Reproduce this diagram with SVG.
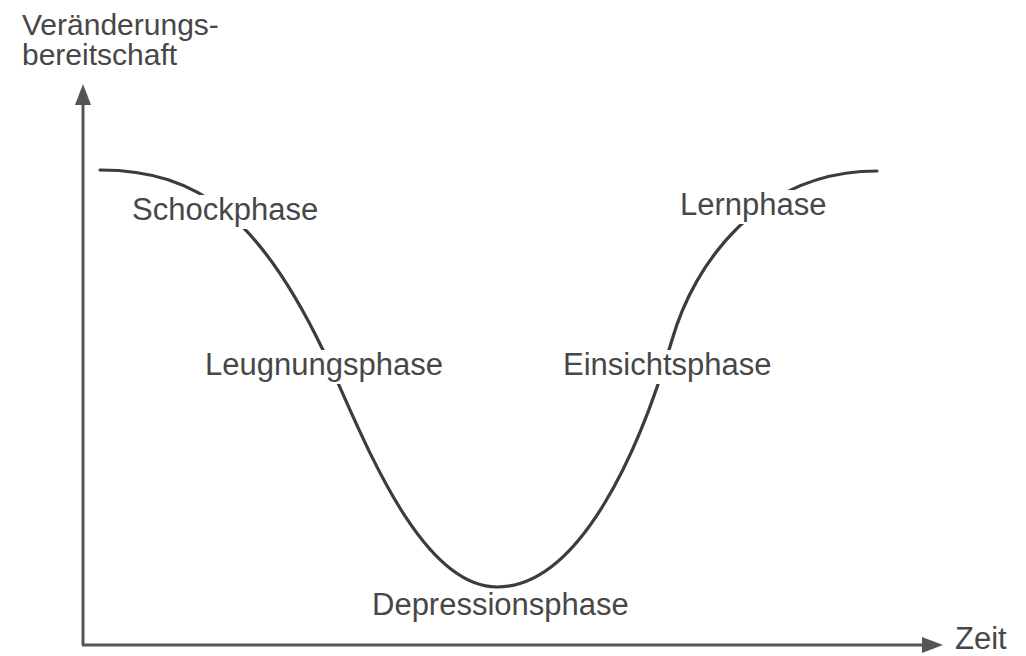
<svg xmlns="http://www.w3.org/2000/svg" width="1026" height="656" viewBox="0 0 1026 656">
<style>
  .lbl { font-family: "Liberation Sans", Arial, sans-serif; font-size: 31px; fill: #474747; }
  .axl { font-size: 30px; }
  .axis { stroke: #555; stroke-width: 3; fill: none; }
  .curve { stroke: #3c3c3c; stroke-width: 3.2; fill: none; stroke-linecap: round; }
  .knock { fill: #ffffff; stroke: none; }
</style>
<defs>
  <marker id="arr" viewBox="0 0 21 16" refX="0" refY="8" markerWidth="21" markerHeight="16" markerUnits="userSpaceOnUse" orient="auto">
    <path d="M0,0 L21,8 L0,16 z" fill="#555"/>
  </marker>
</defs>
<rect width="1026" height="656" fill="#ffffff"/>
<g id="connectors">
  <line class="axis" x1="83" y1="645" x2="83" y2="105" marker-end="url(#arr)"/>
  <line class="axis" x1="82" y1="645" x2="922" y2="645" marker-end="url(#arr)"/>
  <path id="curve" class="curve" d="M100,170 C200,170 260,220 322,348 C357,420 415,587 497,587 C580,587 640,450 672,340 C694,263 760,171 877,171"/>
</g>
<g id="y-label">
  <text class="lbl axl" x="22" y="35">Veränderungs-</text>
  <text class="lbl axl" x="22" y="65">bereitschaft</text>
</g>
<g id="x-label">
  <text class="lbl" x="955" y="649">Zeit</text>
</g>
<g id="schockphase">
  <rect class="knock" x="128" y="195" width="196" height="34"/>
  <text class="lbl" x="132" y="220">Schockphase</text>
</g>
<g id="leugnungsphase">
  <rect class="knock" x="201" y="350" width="250" height="34"/>
  <text class="lbl" x="205" y="375">Leugnungsphase</text>
</g>
<g id="depressionsphase">
  <text class="lbl" x="372" y="615">Depressionsphase</text>
</g>
<g id="einsichtsphase">
  <rect class="knock" x="559" y="350" width="220" height="34"/>
  <text class="lbl" x="563" y="375">Einsichtsphase</text>
</g>
<g id="lernphase">
  <rect class="knock" x="676" y="190" width="156" height="34"/>
  <text class="lbl" x="680" y="215">Lernphase</text>
</g>
</svg>
